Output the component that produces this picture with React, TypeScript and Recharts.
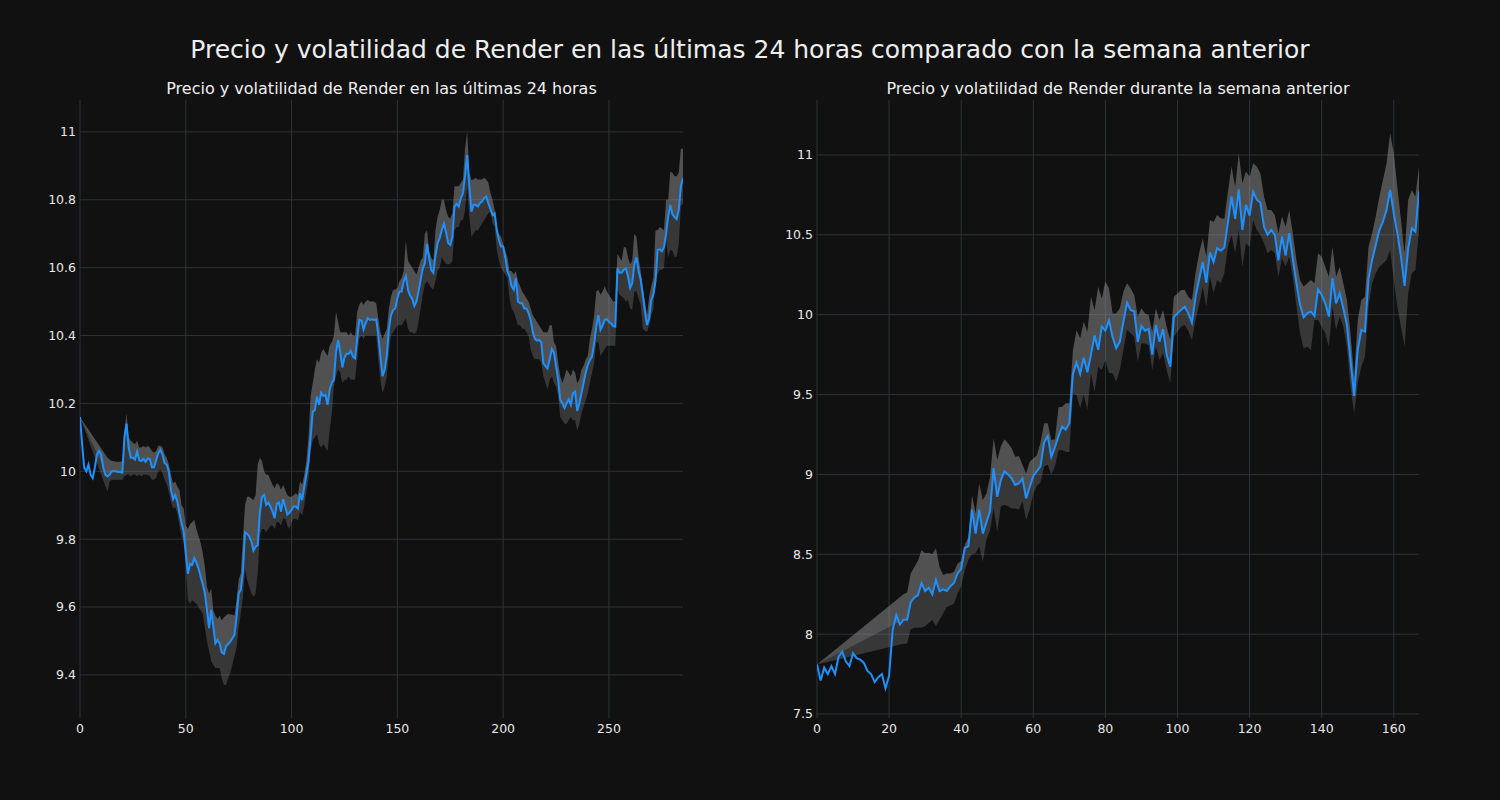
import React from 'react';
import { ComposedChart, Line, Area, XAxis, YAxis, CartesianGrid } from 'recharts';

const mainTitle = 'Precio y volatilidad de Render en las últimas 24 horas comparado con la semana anterior';
const leftTitle = 'Precio y volatilidad de Render en las últimas 24 horas';
const rightTitle = 'Precio y volatilidad de Render durante la semana anterior';

const leftXTicks = [0, 50, 100, 150, 200, 250];
const leftYTicks = [9.4, 9.6, 9.8, 10, 10.2, 10.4, 10.6, 10.8, 11];
const rightXTicks = [0, 20, 40, 60, 80, 100, 120, 140, 160];
const rightYTicks = [7.5, 8, 8.5, 9, 9.5, 10, 10.5, 11];

const leftValues = [
  10.16, 10.08, 10.01, 10.0, 10.02, 9.99, 9.98, 10.01, 10.05, 10.06,
  10.05, 10.01, 9.99, 9.985, 9.99, 10.0, 10.0, 10.0, 9.998, 9.998,
  9.996, 10.1, 10.14, 10.07, 10.04, 10.04, 10.035, 10.058, 10.033, 10.03,
  10.036, 10.028, 10.038, 10.036, 10.012, 10.012, 10.033, 10.053, 10.063, 10.048,
  10.024, 10.019, 9.999, 9.945, 9.918, 9.93, 9.911, 9.877, 9.847, 9.822,
  9.759, 9.698, 9.727, 9.724, 9.744, 9.731, 9.714, 9.69, 9.668, 9.64,
  9.592, 9.538, 9.592, 9.543, 9.493, 9.503, 9.493, 9.466, 9.462, 9.484,
  9.491, 9.498, 9.508, 9.518, 9.572, 9.641, 9.65, 9.705, 9.82, 9.816,
  9.808, 9.793, 9.766, 9.778, 9.783, 9.877, 9.924, 9.93, 9.901, 9.908,
  9.896, 9.881, 9.862, 9.904, 9.908, 9.881, 9.918, 9.896, 9.872, 9.878,
  9.886, 9.896, 9.896, 9.89, 9.935, 9.915, 9.955, 9.99, 10.03, 10.1,
  10.176, 10.18, 10.22, 10.196, 10.232, 10.222, 10.225, 10.196, 10.24, 10.26,
  10.27, 10.35, 10.387, 10.35, 10.306, 10.335, 10.346, 10.346, 10.355, 10.338,
  10.333, 10.39, 10.446, 10.444, 10.418, 10.436, 10.451, 10.446, 10.448, 10.446,
  10.448, 10.4, 10.338, 10.28, 10.3, 10.34, 10.42, 10.46, 10.475, 10.48,
  10.51, 10.53, 10.53, 10.56, 10.575, 10.535, 10.518, 10.508, 10.487, 10.5,
  10.53, 10.564, 10.598, 10.613, 10.67, 10.628, 10.593, 10.585, 10.635, 10.672,
  10.687, 10.711, 10.73, 10.705, 10.672, 10.667, 10.69, 10.78, 10.788, 10.78,
  10.805, 10.819, 10.87, 10.932, 10.84, 10.765, 10.785, 10.785, 10.78, 10.79,
  10.795, 10.805, 10.81, 10.79, 10.772, 10.755, 10.76, 10.71, 10.68, 10.662,
  10.662, 10.63, 10.59, 10.575, 10.545, 10.535, 10.569, 10.5, 10.495, 10.495,
  10.48, 10.48, 10.466, 10.446, 10.41, 10.39, 10.385, 10.387, 10.38, 10.318,
  10.31, 10.303, 10.33, 10.36, 10.35, 10.31, 10.27, 10.21, 10.2, 10.186,
  10.2, 10.212, 10.196, 10.23, 10.235, 10.178, 10.2, 10.23, 10.26, 10.29,
  10.313, 10.328, 10.338, 10.377, 10.426, 10.46, 10.417, 10.43, 10.446, 10.448,
  10.44, 10.436, 10.428, 10.426, 10.598, 10.585, 10.585, 10.594, 10.598, 10.574,
  10.54, 10.555, 10.61, 10.63, 10.59, 10.565, 10.52, 10.47, 10.431, 10.45,
  10.505, 10.52, 10.56, 10.652, 10.654, 10.648, 10.66, 10.7, 10.75, 10.785,
  10.757, 10.749, 10.743, 10.77, 10.84, 10.864,
];

const leftUpper = [
  10.16, null, null, null, null, null, null, null, null, null,
  null, null, null, 10.04, 10.035, 10.03, 10.03, 10.028, 10.028, 10.028,
  10.03, 10.12, 10.17, 10.1, 10.09, 10.085, 10.08, 10.09, 10.07, 10.07,
  10.075, 10.07, 10.075, 10.07, 10.06, 10.055, 10.06, 10.075, 10.075, 10.07,
  10.05, 10.04, 10.02, 9.99, 9.965, 9.97, 9.955, 9.945, 9.9, 9.89,
  9.84, 9.83, 9.845, 9.85, 9.857, 9.83, 9.81, 9.79, 9.76, 9.72,
  9.66, 9.64, 9.655, 9.59, 9.575, 9.565, 9.575, 9.56, 9.57, 9.575,
  9.58, 9.578, 9.578, 9.575, 9.62, 9.68, 9.7, 9.8, 9.9, 9.925,
  9.925, 9.92, 9.915, 9.93, 10.02, 10.04, 10.03, 10.0, 9.99, 9.99,
  9.975, 9.96, 9.95, 9.965, 9.96, 9.945, 9.96, 9.945, 9.93, 9.925,
  9.925, 9.93, 9.935, 9.93, 9.97, 9.96, 9.99, 10.03, 10.1, 10.22,
  10.26, 10.3, 10.33, 10.32, 10.35, 10.36, 10.35, 10.34, 10.37, 10.38,
  10.4, 10.47, 10.44, 10.41, 10.41, 10.41, 10.41, 10.4, 10.41, 10.4,
  10.4, 10.47, 10.49, 10.5, 10.49, 10.5, 10.505, 10.5, 10.5, 10.5,
  10.495, 10.45, 10.41, 10.39, 10.405, 10.42, 10.48, 10.515, 10.535, 10.535,
  10.54, 10.56, 10.57, 10.59, 10.68, 10.62, 10.61, 10.6, 10.59, 10.58,
  10.6, 10.62, 10.63, 10.7, 10.71, 10.65, 10.63, 10.62, 10.71, 10.75,
  10.77, 10.8, 10.8, 10.77, 10.75, 10.745, 10.76, 10.84, 10.84, 10.84,
  10.85, 10.86, 10.95, 11.0, 10.88, 10.858, 10.86, 10.865, 10.86, 10.86,
  10.86, 10.865, 10.86, 10.85, 10.82, 10.8, 10.77, 10.72, 10.7, 10.69,
  10.67, 10.65, 10.63, 10.59, 10.59, 10.58, 10.59, 10.56, 10.545, 10.53,
  10.52, 10.51, 10.5, 10.48, 10.46, 10.45, 10.44, 10.43, 10.42, 10.41,
  10.41, 10.41, 10.43, 10.43, 10.38, 10.37, 10.32, 10.28, 10.26, 10.28,
  10.3, 10.29, 10.28, 10.3, 10.29, 10.26, 10.27, 10.3, 10.31, 10.33,
  10.34, 10.39, 10.42, 10.46, 10.53, 10.535, 10.52, 10.53, 10.545, 10.53,
  10.52, 10.51, 10.5, 10.5, 10.64, 10.63, 10.62, 10.66, 10.66, 10.63,
  10.61, 10.62, 10.7, 10.69, 10.63, 10.59, 10.54, 10.5, 10.46, 10.515,
  10.545, 10.57, 10.71, 10.71, 10.72, 10.715, 10.71, 10.8, 10.8, 10.883,
  10.88, 10.869, 10.869, 10.88, 10.95, 10.95,
];

const leftLower = [
  10.16, null, null, null, null, null, null, null, null, null,
  null, null, null, 9.94, 9.97, 9.975, 9.975, 9.975, 9.975, 9.975,
  9.975, 9.985, 9.99, 9.99, 9.985, 9.99, 9.99, 9.985, 9.99, 9.985,
  9.99, 9.99, 9.99, 9.985, 9.975, 9.975, 9.98, 10.0, 10.005, 9.995,
  9.975, 9.96, 9.94, 9.91, 9.89, 9.895, 9.875, 9.84, 9.81, 9.79,
  9.72, 9.62, 9.61, 9.62, 9.615, 9.61, 9.6, 9.59, 9.58, 9.54,
  9.5, 9.47, 9.44, 9.43, 9.42, 9.42, 9.42, 9.39, 9.37, 9.37,
  9.39, 9.405, 9.43, 9.455, 9.48, 9.54, 9.58, 9.63, 9.71, 9.68,
  9.66, 9.64, 9.63, 9.64, 9.7, 9.81, 9.83, 9.83, 9.82, 9.83,
  9.84, 9.84, 9.83, 9.85, 9.85, 9.84, 9.86, 9.86, 9.84, 9.83,
  9.85, 9.86, 9.86, 9.855, 9.88, 9.87, 9.9, 9.94, 9.98, 10.06,
  10.09, 10.1, 10.11, 10.08, 10.07, 10.08, 10.07, 10.06, 10.12, 10.17,
  10.25, 10.28, 10.3, 10.29, 10.26, 10.27, 10.27, 10.28, 10.27, 10.27,
  10.27, 10.33, 10.39, 10.4, 10.39, 10.4, 10.4, 10.4, 10.4, 10.4,
  10.4, 10.33, 10.27, 10.23, 10.25, 10.28, 10.35, 10.4, 10.41, 10.42,
  10.43, 10.43, 10.43, 10.44, 10.45, 10.42, 10.41, 10.41, 10.405, 10.41,
  10.44, 10.48, 10.52, 10.55, 10.56, 10.55, 10.54, 10.535, 10.56, 10.59,
  10.6, 10.63, 10.62, 10.61, 10.61, 10.61, 10.62, 10.71, 10.72, 10.72,
  10.74, 10.74, 10.77, 10.84, 10.75, 10.69, 10.7, 10.71, 10.71, 10.72,
  10.73, 10.74, 10.75, 10.76, 10.765, 10.73, 10.72, 10.65, 10.62, 10.6,
  10.59, 10.58, 10.57, 10.51, 10.48, 10.47, 10.45, 10.43, 10.43, 10.42,
  10.42, 10.41, 10.4, 10.36, 10.34, 10.33, 10.33, 10.33, 10.32, 10.28,
  10.26, 10.24, 10.27, 10.28, 10.26, 10.25, 10.22, 10.16, 10.15, 10.14,
  10.14, 10.15, 10.16, 10.15, 10.15, 10.12, 10.14, 10.17, 10.19, 10.21,
  10.23, 10.26, 10.29, 10.32, 10.38, 10.38, 10.34, 10.35, 10.36, 10.37,
  10.37, 10.37, 10.37, 10.37, 10.535, 10.52, 10.515, 10.51, 10.5, 10.505,
  10.48, 10.476, 10.53, 10.53, 10.51, 10.49, 10.42, 10.415, 10.41, 10.43,
  10.46, 10.48, 10.58, 10.58, 10.594, 10.594, 10.6, 10.68, 10.63, 10.652,
  10.65, 10.632, 10.632, 10.67, 10.78, 10.79,
];

const rightValues = [
  7.81, 7.71, 7.79, 7.75, 7.8, 7.75, 7.86, 7.89, 7.83, 7.8,
  7.88, 7.85, 7.84, 7.82, 7.77, 7.75, 7.7, 7.73, 7.75, 7.66,
  7.74, 8.03, 8.12, 8.06, 8.09, 8.09, 8.2, 8.23, 8.245, 8.32,
  8.27, 8.29, 8.25, 8.34, 8.27, 8.28, 8.27, 8.3, 8.32, 8.38,
  8.41, 8.54, 8.55, 8.78, 8.63, 8.78, 8.63, 8.7, 8.77, 9.04,
  8.86, 8.965, 9.02, 9.0, 8.975, 8.934, 8.944, 8.975, 8.85, 8.92,
  8.99, 9.02, 9.05, 9.2, 9.24, 9.11, 9.17, 9.24, 9.3, 9.28,
  9.32, 9.63, 9.7, 9.63, 9.73, 9.64, 9.75, 9.87, 9.78, 9.925,
  9.9, 9.965, 9.86, 9.79, 9.83, 9.955, 10.075, 10.03, 10.02, 9.83,
  9.93, 9.9, 9.91, 9.75, 9.935, 9.83, 9.91, 9.75, 9.675, 9.985,
  10.008, 10.03, 10.05, 10.008, 9.95, 10.11, 10.22, 10.33, 10.2, 10.39,
  10.33, 10.416, 10.4, 10.42, 10.58, 10.74, 10.6, 10.785, 10.53, 10.687,
  10.62, 10.77, 10.72, 10.7, 10.55, 10.5, 10.53, 10.5, 10.34, 10.49,
  10.37, 10.51, 10.35, 10.196, 10.06, 9.984, 10.009, 10.02, 9.992, 10.159,
  10.123, 10.071, 9.988, 10.228, 10.071, 10.134, 10.04, 9.936, 9.716, 9.491,
  9.78, 9.904, 9.894, 10.228, 10.343, 10.436, 10.53, 10.583, 10.656, 10.781,
  10.635, 10.51, 10.363, 10.18, 10.416, 10.541, 10.52, 10.771,
];

const rightUpper = [
  7.81, null, null, null, null, null, null, null, null, null,
  null, null, null, null, null, null, null, null, null, null,
  null, null, null, null, 8.25, 8.26, 8.38, 8.42, 8.46, 8.526,
  8.506, 8.51, 8.5, 8.537, 8.42, 8.37, 8.38, 8.38, 8.39, 8.44,
  8.46, 8.558, 8.61, 8.87, 8.756, 8.944, 8.84, 8.88, 8.986, 9.226,
  9.09, 9.174, 9.22, 9.195, 9.163, 9.11, 9.115, 9.06, 9.006, 9.08,
  9.1, 9.12, 9.2, 9.32, 9.32, 9.215, 9.22, 9.42, 9.424, 9.445,
  9.445, 9.778, 9.904, 9.852, 9.956, 9.893, 10.113, 10.029, 10.175, 10.102,
  10.207, 10.165, 10.008, 10.008, 10.04, 10.144, 10.196, 10.165, 10.123, 9.987,
  10.04, 10.008, 9.998, 9.893, 10.04, 9.967, 10.029, 9.925, 9.841, 10.113,
  10.133, 10.154, 10.154, 10.113, 10.092, 10.259, 10.384, 10.478, 10.363, 10.593,
  10.58, 10.624, 10.603, 10.6, 10.77, 10.927, 10.8, 11.01, 10.823, 10.896,
  10.864, 10.948, 10.927, 10.885, 10.74, 10.656, 10.656, 10.624, 10.51, 10.614,
  10.551, 10.656, 10.51, 10.343, 10.217, 10.176, 10.196, 10.217, 10.196, 10.384,
  10.363, 10.3, 10.238, 10.426, 10.238, 10.3, 10.196, 10.092, 9.883, 9.612,
  9.967, 10.092, 10.113, 10.426, 10.51, 10.614, 10.739, 10.843, 10.948, 11.136,
  11.01, 10.8, 10.593, 10.384, 10.72, 10.78, 10.74, 10.927,
];

const rightLower = [
  7.81, null, null, null, null, null, null, null, null, null,
  null, null, null, null, null, null, null, null, null, null,
  null, null, null, null, 7.94, 7.94, 8.03, 8.04, 8.04, 8.04,
  8.05, 8.07, 8.09, 8.05, 8.09, 8.13, 8.17, 8.18, 8.19, 8.255,
  8.3, 8.4, 8.465, 8.5, 8.506, 8.55, 8.454, 8.59, 8.65, 8.787,
  8.641, 8.8, 8.808, 8.8, 8.787, 8.787, 8.78, 8.83, 8.714, 8.78,
  8.88, 8.93, 8.95, 9.05, 9.06, 9.0, 9.05, 9.15, 9.153, 9.14,
  9.14, 9.507, 9.497, 9.414, 9.5, 9.403, 9.633, 9.518, 9.674, 9.654,
  9.716, 9.633, 9.633, 9.58, 9.654, 9.779, 9.904, 9.883, 9.862, 9.706,
  9.82, 9.82, 9.81, 9.654, 9.8, 9.716, 9.758, 9.654, 9.57, 9.862,
  9.893, 9.925, 9.935, 9.9, 9.841, 9.967, 10.06, 10.175, 10.05, 10.24,
  10.134, 10.217, 10.196, 10.26, 10.426, 10.499, 10.384, 10.53, 10.3, 10.447,
  10.426, 10.593, 10.53, 10.499, 10.447, 10.384, 10.405, 10.384, 10.238, 10.353,
  10.3, 10.363, 10.238, 10.05, 9.883, 9.789, 9.8, 9.779, 9.967, 9.967,
  9.925, 9.883, 9.8, 10.05, 9.904, 9.988, 9.925, 9.8, 9.55, 9.382,
  9.57, 9.675, 9.737, 10.05, 10.196, 10.259, 10.3, 10.32, 10.343, 10.405,
  10.217, 10.05, 9.925, 9.8, 10.134, 10.259, 10.28, 10.53,
];

type Row = { x: number; v: number; up: number | null; lo: number | null };

function buildRows(values: number[], upper: (number | null)[], lower: (number | null)[]): Row[] {
  return values.map((v, i) => ({ x: i, v, up: upper[i] ?? null, lo: lower[i] ?? null }));
}

const leftRows = buildRows(leftValues, leftUpper, leftLower);
const rightRows = buildRows(rightValues, rightUpper, rightLower);

const upperBand = (d: Row) => (d.up == null ? null : [d.v, d.up]);
const lowerBand = (d: Row) => (d.lo == null ? null : [d.lo, d.v]);

const fmt = (v: number) => String(Math.round(v * 10) / 10);

const FONT = '"DejaVu Sans", sans-serif';
const GRID = '#2c323d';
const TICK = { fill: '#e8e8e8', fontSize: 12.5, fontFamily: FONT };

type PanelProps = {
  rows: Row[];
  xDomain: [number, number];
  yDomain: [number, number];
  xTicks: number[];
  yTicks: number[];
  marginLeft: number;
  marginRight: number;
};

function Panel({ rows, xDomain, yDomain, xTicks, yTicks, marginLeft, marginRight }: PanelProps) {
  return (
    <ComposedChart
      width={700}
      height={760}
      data={rows}
      margin={{ top: 100, right: marginRight, left: marginLeft, bottom: 12 }}
    >
      <CartesianGrid
        stroke={GRID}
        strokeWidth={1}
        horizontalValues={yTicks}
        verticalValues={xTicks}
      />
      <XAxis
        type="number"
        dataKey="x"
        domain={xDomain}
        ticks={xTicks}
        allowDataOverflow
        axisLine={false}
        tickLine={false}
        tickSize={0}
        tickMargin={6}
        height={30}
        tick={TICK}
      />
      <YAxis
        type="number"
        domain={yDomain}
        ticks={yTicks}
        allowDataOverflow
        axisLine={false}
        tickLine={false}
        tickSize={0}
        tickMargin={4}
        width={60}
        tick={TICK}
        tickFormatter={fmt}
      />
      <Area
        dataKey={upperBand as any}
        stroke="none"
        fill="#a0a0a0"
        fillOpacity={0.45}
        connectNulls
        isAnimationActive={false}
        activeDot={false}
      />
      <Area
        dataKey={lowerBand as any}
        stroke="none"
        fill="#a0a0a0"
        fillOpacity={0.27}
        connectNulls
        isAnimationActive={false}
        activeDot={false}
      />
      <Line
        dataKey="v"
        stroke="#1e90ff"
        strokeWidth={2}
        dot={false}
        activeDot={false}
        isAnimationActive={false}
      />
    </ComposedChart>
  );
}

export default function App() {
  return (
    <div
      style={{
        position: 'absolute',
        left: 0,
        top: 0,
        width: 1500,
        height: 800,
        background: '#111111',
        fontFamily: FONT,
        overflow: 'hidden',
      }}
    >
      <div
        style={{
          position: 'absolute',
          left: 0,
          top: 35,
          width: 1500,
          height: 30,
          lineHeight: '30px',
          textAlign: 'center',
          fontSize: 25,
          color: '#eeeeee',
        }}
      >
        {mainTitle}
      </div>
      <div
        style={{
          position: 'absolute',
          left: 80,
          top: 79,
          width: 603,
          height: 20,
          lineHeight: '20px',
          textAlign: 'center',
          fontSize: 16,
          color: '#eeeeee',
          whiteSpace: 'nowrap',
        }}
      >
        {leftTitle}
      </div>
      <div
        style={{
          position: 'absolute',
          left: 817,
          top: 79,
          width: 602,
          height: 20,
          lineHeight: '20px',
          textAlign: 'center',
          fontSize: 16,
          color: '#eeeeee',
          whiteSpace: 'nowrap',
        }}
      >
        {rightTitle}
      </div>
      <div style={{ position: 'absolute', left: 0, top: 0 }}>
        <Panel
          rows={leftRows}
          xDomain={[0, 285]}
          yDomain={[9.273, 11.094]}
          xTicks={leftXTicks}
          yTicks={leftYTicks}
          marginLeft={20}
          marginRight={17}
        />
      </div>
      <div style={{ position: 'absolute', left: 740, top: 0 }}>
        <Panel
          rows={rightRows}
          xDomain={[0, 167]}
          yDomain={[7.475, 11.344]}
          xTicks={rightXTicks}
          yTicks={rightYTicks}
          marginLeft={17}
          marginRight={21}
        />
      </div>
    </div>
  );
}
